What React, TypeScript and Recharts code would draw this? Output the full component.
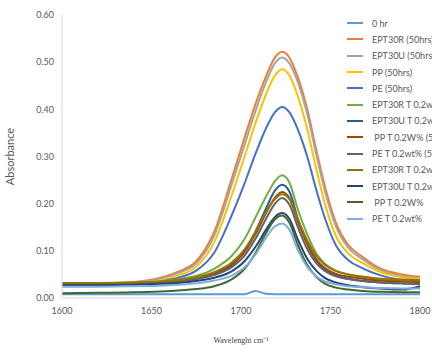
import React from 'react'
import { LineChart, Line, XAxis, YAxis } from 'recharts'

// wavenumber grid (cm-1) the spectra were read at
const wavenumbers = [
  1600, 1620, 1640, 1655, 1665, 1675, 1685, 1695, 1702, 1708, 1714, 1719,
  1723, 1727, 1732, 1737, 1742, 1747, 1753, 1760, 1768, 1778, 1790, 1800,
]

const hr0 = [
  0.008, 0.008, 0.008, 0.008, 0.008, 0.008, 0.008, 0.008, 0.008, 0.015, 0.009, 0.008,
  0.008, 0.008, 0.008, 0.008, 0.008, 0.008, 0.008, 0.008, 0.008, 0.008, 0.008, 0.008,
]
const ept30r = [
  0.03, 0.031, 0.034, 0.043, 0.056, 0.078, 0.14, 0.255, 0.34, 0.41, 0.47, 0.51,
  0.522, 0.51, 0.465, 0.4, 0.315, 0.235, 0.16, 0.112, 0.087, 0.062, 0.05, 0.045,
]
const ept30u = [
  0.03, 0.03, 0.033, 0.041, 0.053, 0.073, 0.132, 0.243, 0.325, 0.395, 0.458, 0.498,
  0.51, 0.498, 0.455, 0.39, 0.305, 0.225, 0.152, 0.106, 0.082, 0.059, 0.047, 0.042,
]
const pp = [
  0.028, 0.029, 0.031, 0.037, 0.048, 0.066, 0.118, 0.22, 0.3, 0.37, 0.432, 0.472,
  0.485, 0.472, 0.425, 0.358, 0.275, 0.198, 0.132, 0.094, 0.074, 0.055, 0.044, 0.04,
]
const pe = [
  0.027, 0.028, 0.03, 0.035, 0.043, 0.058, 0.096, 0.177, 0.243, 0.305, 0.36, 0.394,
  0.405, 0.394, 0.355, 0.3, 0.23, 0.168, 0.112, 0.08, 0.063, 0.048, 0.038, 0.034,
]
const ept30rT = [
  0.028, 0.029, 0.031, 0.035, 0.04, 0.047, 0.062, 0.09, 0.125, 0.17, 0.215, 0.248,
  0.26, 0.245, 0.185, 0.135, 0.095, 0.072, 0.058, 0.05, 0.045, 0.04, 0.037, 0.035,
]
const ept30uT = [
  0.029, 0.029, 0.03, 0.032, 0.035, 0.04, 0.05, 0.07, 0.098, 0.14, 0.19, 0.228,
  0.24, 0.226, 0.165, 0.115, 0.08, 0.06, 0.048, 0.041, 0.036, 0.033, 0.031, 0.03,
]
const ppT = [
  0.031, 0.031, 0.032, 0.034, 0.037, 0.042, 0.052, 0.072, 0.098, 0.135, 0.18, 0.213,
  0.225, 0.212, 0.16, 0.115, 0.082, 0.063, 0.051, 0.045, 0.041, 0.037, 0.035, 0.034,
]
const peT = [
  0.03, 0.03, 0.031, 0.033, 0.036, 0.04, 0.049, 0.066, 0.09, 0.125, 0.168, 0.2,
  0.212, 0.198, 0.148, 0.104, 0.074, 0.057, 0.046, 0.04, 0.036, 0.033, 0.031, 0.03,
]
const ept30rT2 = [
  0.032, 0.032, 0.033, 0.035, 0.038, 0.044, 0.055, 0.076, 0.103, 0.14, 0.183, 0.21,
  0.22, 0.21, 0.165, 0.122, 0.09, 0.07, 0.057, 0.05, 0.045, 0.041, 0.039, 0.038,
]
const ept30uT2 = [
  0.027, 0.027, 0.028, 0.03, 0.032, 0.036, 0.043, 0.057, 0.078, 0.108, 0.145, 0.172,
  0.18, 0.168, 0.122, 0.083, 0.058, 0.042, 0.033, 0.027, 0.023, 0.02, 0.018, 0.025,
]
const ppT2 = [
  0.01, 0.011, 0.012, 0.014, 0.016, 0.019, 0.025, 0.04, 0.062, 0.095, 0.138, 0.167,
  0.175, 0.16, 0.11, 0.07, 0.045, 0.03, 0.022, 0.018, 0.015, 0.013, 0.012, 0.012,
]
const peT2 = [
  0.024, 0.024, 0.025, 0.026, 0.028, 0.031, 0.037, 0.048, 0.065, 0.092, 0.128, 0.152,
  0.158, 0.145, 0.1, 0.066, 0.046, 0.035, 0.029, 0.025, 0.023, 0.021, 0.02, 0.02,
]

const seriesNames = [
  '0 hr',
  'EPT30R (50hrs)',
  'EPT30U (50hrs)',
  'PP (50hrs)',
  'PE (50hrs)',
  'EPT30R T 0.2wt% (50hrs)',
  'EPT30U T 0.2wt% (50hrs)',
  '\u00a0PP T 0.2W% (50hrs)',
  'PE T 0.2wt% (50hrs)',
  'EPT30R T 0.2wt%',
  'EPT30U T 0.2wt%',
  '\u00a0PP T 0.2W%',
  'PE T 0.2wt%',
]
const seriesValues = [
  hr0, ept30r, ept30u, pp, pe, ept30rT, ept30uT, ppT, peT, ept30rT2, ept30uT2, ppT2, peT2,
]
const seriesColors = [
  '#5b9bd5', '#ed7d31', '#a5a5a5', '#ffc000', '#4472c4', '#70ad47', '#255e91',
  '#9e480e', '#636363', '#997300', '#264478', '#43682b', '#7cafdd',
]

const xTicks = [1600, 1650, 1700, 1750, 1800]
const yTicks = [0, 0.1, 0.2, 0.3, 0.4, 0.5, 0.6]

const data = wavenumbers.map((w, i) => {
  const row: Record<string, number> = { w }
  seriesValues.forEach((s, k) => {
    row['s' + k] = s[i]
  })
  return row
})

const font = 'Lato, "Open Sans", sans-serif'

// legend sits over the top-right of the plot, like the original, and runs off the edge
function LegendList() {
  return (
    <div style={{ position: 'absolute', left: 347, top: 15, fontFamily: font }}>
      {seriesNames.map((name, k) => (
        <div
          key={name}
          style={{ display: 'flex', alignItems: 'center', height: 16.3, whiteSpace: 'nowrap' }}
        >
          <svg width={16} height={4}>
            <line x1={0} y1={2} x2={16} y2={2} stroke={seriesColors[k]} strokeWidth={2} />
          </svg>
          <span style={{ marginLeft: 9, fontSize: 9, color: '#595959' }}>{name}</span>
        </div>
      ))}
    </div>
  )
}

export default function App() {
  return (
    <div
      style={{
        position: 'absolute',
        left: 0,
        top: 0,
        width: 432,
        height: 352,
        overflow: 'hidden',
        background: '#fff',
      }}
    >
      <LineChart width={432} height={352} data={data} margin={{ top: 15, right: 12, bottom: 0, left: 0 }}>
        <XAxis
          dataKey="w"
          type="number"
          domain={[1600, 1800]}
          ticks={xTicks}
          height={54}
          axisLine={{ stroke: '#d9d9d9' }}
          tickLine={false}
          tickMargin={4}
          tick={{ fontSize: 9, fill: '#595959', fontFamily: font }}
          label={{
            value: 'Wavelenght cm\u207b\u00b9',
            position: 'insideBottom',
            offset: 9,
            style: { fontSize: 8, fill: '#404040', fontFamily: '"Liberation Serif", serif' },
          }}
        />
        <YAxis
          type="number"
          domain={[0, 0.6]}
          ticks={yTicks}
          width={62}
          axisLine={{ stroke: '#d9d9d9' }}
          tickLine={false}
          tickFormatter={(v: number) => v.toFixed(2)}
          tick={{ fontSize: 9, fill: '#595959', fontFamily: font }}
          label={{
            value: 'Absorbance',
            angle: -90,
            position: 'insideLeft',
            offset: 10,
            style: { fontSize: 11, fill: '#595959', fontFamily: font, textAnchor: 'middle' },
          }}
        />
        {seriesNames.map((name, k) => (
          <Line
            key={name}
            type="monotone"
            dataKey={'s' + k}
            name={name}
            stroke={seriesColors[k]}
            strokeWidth={2}
            dot={false}
            isAnimationActive={false}
          />
        ))}
      </LineChart>
      <LegendList />
    </div>
  )
}
